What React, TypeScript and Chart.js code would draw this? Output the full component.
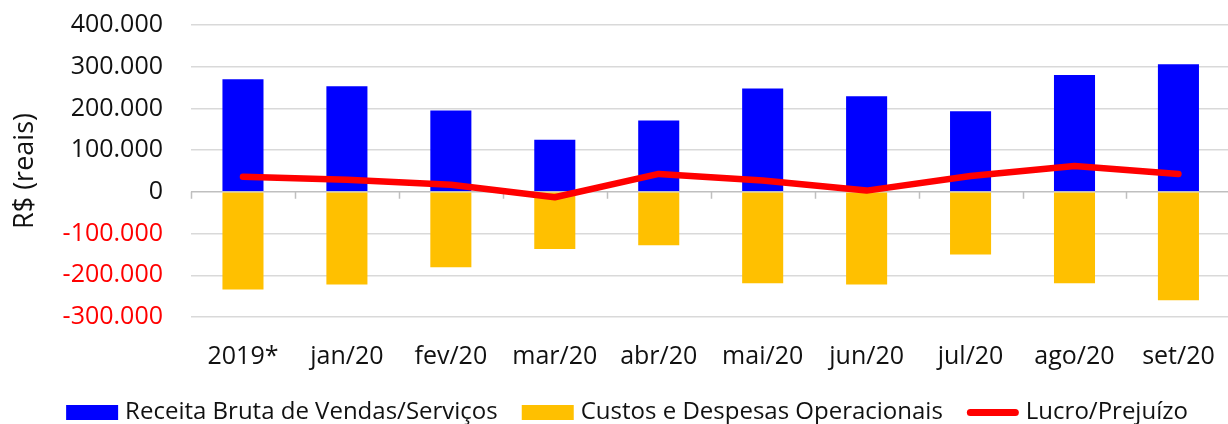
import React, { useEffect, useRef } from "react";
import { Chart, registerables } from "chart.js";

Chart.register(...registerables);

const categories = ["2019*", "jan/20", "fev/20", "mar/20", "abr/20", "mai/20", "jun/20", "jul/20", "ago/20", "set/20"];
const receita = [270000, 253000, 195000, 125000, 171000, 248000, 229000, 193000, 280000, 306000];
const custos = [-234000, -222000, -181000, -137000, -128000, -219000, -222000, -150000, -219000, -260000];
const lucro = [36000, 29000, 17000, -13000, 43000, 27000, 3000, 38000, 62000, 43000];
const seriesNames = ["Receita Bruta de Vendas/Serviços", "Custos e Despesas Operacionais", "Lucro/Prejuízo"];
const yMin = -300000;
const yMax = 400000;
const yStep = 100000;
const yTitle = "R$ (reais)";

const FONT = '"Open Sans", "DejaVu Sans", sans-serif';

function fmt(v: number): string {
  const s = Math.abs(v).toString().replace(/\B(?=(\d{3})+(?!\d))/g, ".");
  return (v < 0 ? "-" : "") + s;
}

const axisMarks = {
  id: "axisMarks",
  beforeDatasetsDraw(chart: any) {
    const { ctx, chartArea, scales } = chart;
    const y0 = scales.y.getPixelForValue(0);
    const n = chart.data.labels.length;
    const w = (chartArea.right - chartArea.left) / n;
    ctx.save();
    ctx.strokeStyle = "#bfbfbf";
    ctx.lineWidth = 1.5;
    ctx.beginPath();
    ctx.moveTo(chartArea.left, y0);
    ctx.lineTo(chartArea.right, y0);
    for (let k = 0; k <= n; k++) {
      const x = Math.round(chartArea.left + k * w) + 0.5;
      ctx.moveTo(x, y0);
      ctx.lineTo(x, y0 + 7);
    }
    ctx.stroke();
    ctx.restore();
  },
};

const customLegend = {
  id: "customLegend",
  afterDraw(chart: any) {
    const { ctx } = chart;
    const ds = chart.data.datasets;
    const boxW = 52;
    const boxH = 15;
    const gap = 7;
    const itemGap = 24;
    const cy = 412.5;
    ctx.save();
    ctx.font = "24px " + FONT;
    const widths = ds.map((d: any) => boxW + gap + ctx.measureText(d.label).width);
    const total = widths.reduce((a: number, b: number) => a + b, 0) + itemGap * (ds.length - 1);
    let x = 627 - total / 2;
    ds.forEach((d: any, i: number) => {
      if (d.type === "line") {
        ctx.strokeStyle = d.borderColor;
        ctx.lineWidth = 7;
        ctx.lineCap = "round";
        ctx.beginPath();
        ctx.moveTo(x + 3.5, cy);
        ctx.lineTo(x + boxW - 3.5, cy);
        ctx.stroke();
      } else {
        ctx.fillStyle = d.backgroundColor;
        ctx.fillRect(x, cy - boxH / 2, boxW, boxH);
      }
      ctx.fillStyle = "#111111";
      ctx.textBaseline = "middle";
      ctx.textAlign = "left";
      ctx.fillText(d.label, x + boxW + gap, cy);
      x += widths[i] + itemGap;
    });
    ctx.restore();
  },
};

export default function App() {
  const canvasRef = useRef<HTMLCanvasElement | null>(null);

  useEffect(() => {
    let chart: Chart | null = null;
    let cancelled = false;
    const make = () => {
      if (cancelled || !canvasRef.current) return;
      chart = new Chart(canvasRef.current, {
        type: "bar",
        data: {
          labels: categories,
          datasets: [
            {
              type: "bar",
              label: seriesNames[0],
              data: receita,
              backgroundColor: "#0000ff",
              borderWidth: 0,
              grouped: false,
              categoryPercentage: 1,
              barPercentage: 0.395,
            } as any,
            {
              type: "bar",
              label: seriesNames[1],
              data: custos,
              backgroundColor: "#ffc000",
              borderWidth: 0,
              grouped: false,
              categoryPercentage: 1,
              barPercentage: 0.395,
            } as any,
            {
              type: "line",
              label: seriesNames[2],
              data: lucro,
              borderColor: "#ff0000",
              backgroundColor: "#ff0000",
              borderWidth: 6.5,
              pointRadius: 0,
              tension: 0,
              borderCapStyle: "round",
              borderJoinStyle: "round",
              order: -1,
            } as any,
          ],
        },
        options: {
          responsive: false,
          animation: false,
          layout: { padding: { top: 25, right: 5, bottom: 27, left: 0 } },
          plugins: {
            legend: { display: false },
            tooltip: { enabled: false },
          },
          scales: {
            x: {
              grid: { display: false, drawTicks: false },
              border: { display: false },
              ticks: {
                color: "#111111",
                font: { family: FONT, size: 25 },
                padding: 25,
                maxRotation: 0,
                autoSkip: false,
              },
            },
            y: {
              min: yMin,
              max: yMax,
              afterFit(scale: any) {
                scale.width = 191;
                scale.paddingTop = 12;
                scale.paddingBottom = 12;
              },
              grid: {
                drawTicks: false,
                color: (c: any) => (c.tick && c.tick.value === 0 ? "rgba(0,0,0,0)" : "#d9d9d9"),
                lineWidth: 1.5,
              },
              border: { display: false },
              title: {
                display: true,
                text: yTitle,
                color: "#111111",
                font: { family: FONT, size: 27 },
                padding: { top: 9, bottom: 0 },
              },
              ticks: {
                stepSize: yStep,
                padding: 28,
                font: { family: FONT, size: 25 },
                color: (c: any) => (c.tick && c.tick.value < 0 ? "#ff0000" : "#111111"),
                callback: (v: any) => fmt(Number(v)),
              },
            },
          },
        },
        plugins: [axisMarks, customLegend],
      });
    };
    const fontsApi: any = (document as any).fonts;
    if (fontsApi && fontsApi.load) {
      Promise.all([
        fontsApi.load('25px "Open Sans"'),
        fontsApi.load('24px "Open Sans"'),
      ]).then(make, make);
    } else {
      make();
    }
    return () => {
      cancelled = true;
      if (chart) chart.destroy();
    };
  }, []);

  return (
    <div style={{ position: "absolute", left: 0, top: 0, width: 1228, height: 424, overflow: "hidden", background: "#fff" }}>
      <canvas ref={canvasRef} width={1240} height={424} style={{ display: "block" }} />
    </div>
  );
}
